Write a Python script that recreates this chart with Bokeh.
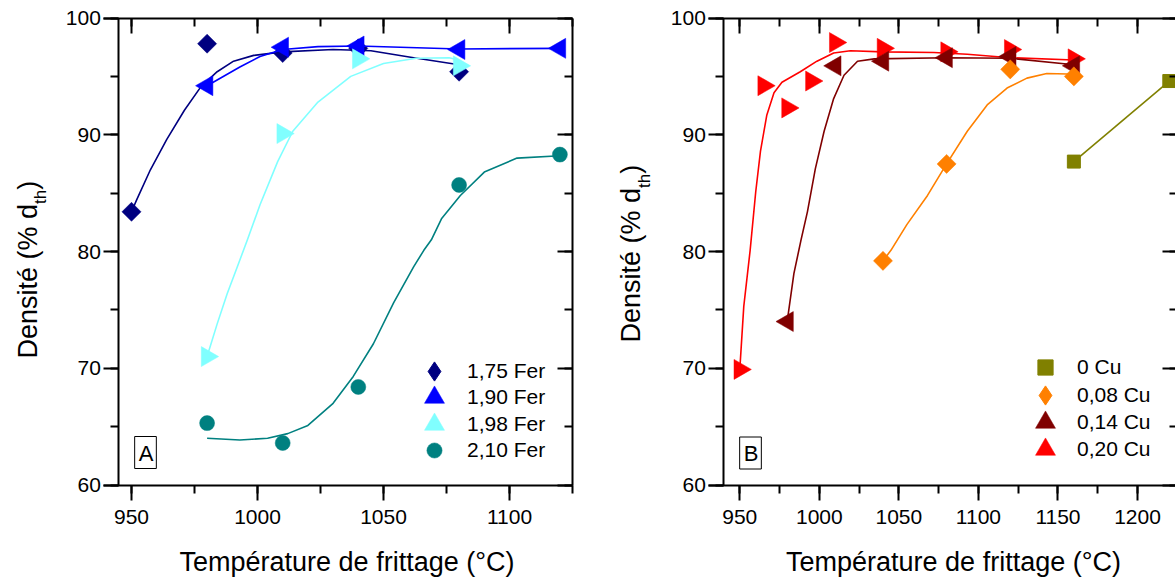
import math
import numpy as np
from bokeh.plotting import figure
from bokeh.models import (Range1d, LinearAxis, SingleIntervalTicker, Label,
                          Legend, LegendItem)
from bokeh.layouts import row
from bokeh.embed import file_html
from bokeh.resources import INLINE

FONT = "Liberation Sans"

# ---------------- Panel A : iron content ----------------
a_T_175 = [950, 980, 1010, 1040, 1080]
a_D_175 = [83.4, 97.8, 97.0, 97.4, 95.4]
a_fitT_175 = [950, 952, 957.5, 964, 971, 977.5, 984, 990.5, 998.5, 1010, 1030, 1045, 1062, 1080]
a_fitD_175 = [83.4, 84.4, 87.0, 89.6, 92.1, 94.1, 95.4, 96.3, 96.8, 97.1, 97.3, 97.2, 96.6, 96.0]

a_T_190 = [980, 1010, 1040, 1080, 1120]
a_D_190 = [94.2, 97.5, 97.6, 97.3, 97.4]
a_fitT_190 = [980, 993, 1001, 1010, 1024, 1040, 1080, 1120]
a_fitD_190 = [94.2, 95.8, 96.7, 97.3, 97.55, 97.6, 97.35, 97.4]

a_T_198 = [980, 1010, 1040, 1080]
a_D_198 = [71.0, 90.1, 96.5, 95.9]
a_fitT_198 = [980, 984, 988, 992, 996, 1001, 1008, 1014, 1024, 1037, 1050, 1063, 1076, 1080]
a_fitD_198 = [71.0, 73.8, 76.4, 78.7, 81.0, 84.0, 87.7, 90.3, 92.8, 95.0, 96.1, 96.55, 96.6, 96.4]

a_T_210 = [980, 1010, 1040, 1080, 1120]
a_D_210 = [65.3, 63.6, 68.4, 85.7, 88.3]
a_fitT_210 = [980, 993, 1004, 1012, 1020, 1030, 1038, 1046, 1054, 1062, 1066, 1069, 1073, 1080.5, 1090, 1103, 1120]
a_fitD_210 = [64.0, 63.85, 64.0, 64.4, 65.1, 67.0, 69.3, 72.1, 75.6, 78.7, 80.1, 81.0, 82.8, 84.8, 86.8, 88.0, 88.2]

a_labels = ["1,75 Fer", "1,90 Fer", "1,98 Fer", "2,10 Fer"]

# ---------------- Panel B : copper content ----------------
b_T_000 = [1160, 1220]
b_D_000 = [87.7, 94.6]

b_T_008 = [1040, 1080, 1120, 1160]
b_D_008 = [79.2, 87.5, 95.6, 95.0]
b_fitT_008 = [1040, 1045, 1055, 1068, 1080, 1093, 1105.5, 1118, 1130.5, 1143, 1156, 1160]
b_fitD_008 = [79.2, 80.1, 82.3, 84.8, 87.5, 90.3, 92.55, 94.0, 94.85, 95.25, 95.2, 95.0]

b_T_014 = [980, 1010, 1040, 1080, 1120, 1160]
b_D_014 = [74.0, 95.9, 96.3, 96.6, 96.7, 95.9]
b_fitT_014 = [980, 984, 988.5, 992.5, 997.5, 1003, 1009, 1015.5, 1024, 1034.5, 1080, 1120, 1160]
b_fitD_014 = [74.2, 78.1, 81.0, 83.4, 87.1, 90.3, 93.1, 95.1, 96.3, 96.5, 96.6, 96.55, 96.0]

b_T_020 = [950, 965, 980, 995, 1010, 1040, 1080, 1120, 1160]
b_D_020 = [69.9, 94.2, 92.3, 94.6, 97.9, 97.4, 97.1, 97.3, 96.5]
b_fitT_020 = [950, 952.5, 956.5, 960, 963, 967, 971.5, 976.5, 988, 998.5, 1009, 1019.5, 1040, 1072, 1093, 1120, 1160]
b_fitD_020 = [69.9, 75.3, 80.1, 85.1, 88.6, 91.7, 93.6, 94.5, 95.4, 96.3, 97.0, 97.2, 97.1, 97.05, 96.9, 96.6, 96.4]

b_labels = ["0 Cu", "0,08 Cu", "0,14 Cu", "0,20 Cu"]

x_title = "Température de frittage (°C)"
y_title_main = "Densité (% d"
y_title_sub = "th"
y_title_end = ")"

# ---------------- geometry (canvas pixels) ----------------
W, H = 1175, 577
SPLIT = 600
PY_TOP, PY_BOT = 17.5, 484.5          # pixel rows of 100 % and 60 %


def y_at(py):
    return 100 - (py - PY_TOP) * 40.0 / (PY_BOT - PY_TOP)


A = dict(ox=0, w=SPLIT, ref_px=131.0, ref_T=950.0, k=2.52)
B = dict(ox=SPLIT, w=W - SPLIT, ref_px=739.3, ref_T=950.0, k=1.5908)


def x_at(px, f):
    return f["ref_T"] + (px - f["ref_px"]) / f["k"]


def make_fig(f, y_axis_T, right_axis_T, x_bound_px, x_bound_end):
    p = figure(width=f["w"], height=H, output_backend="svg", toolbar_location=None,
               x_range=Range1d(x_at(f["ox"], f), x_at(f["ox"] + f["w"], f)),
               y_range=Range1d(y_at(H), y_at(0)),
               x_axis_location=None, y_axis_location=None,
               min_border=0, min_border_left=0, min_border_right=0,
               min_border_top=0, min_border_bottom=0, title=None)
    p.outline_line_color = None
    p.background_fill_color = "white"
    p.border_fill_color = "white"
    p.grid.visible = False

    xb = (x_at(x_bound_px, f), x_bound_end)

    def ax_style(ax, tin, tout, min_in, min_out, labels, standoff=0):
        ax.axis_line_width = 2
        ax.major_tick_line_width = 2
        ax.minor_tick_line_width = 2
        ax.major_tick_in = tin
        ax.major_tick_out = tout
        ax.minor_tick_in = min_in
        ax.minor_tick_out = min_out
        if labels:
            ax.major_label_text_font = FONT
            ax.major_label_text_font_size = "21px"
            ax.major_label_text_color = "black"
            ax.major_label_standoff = standoff
        else:
            ax.major_label_text_font_size = "0px"
            ax.major_label_text_color = None
            ax.major_label_standoff = 0

    bottom = LinearAxis(ticker=SingleIntervalTicker(interval=50, num_minor_ticks=2),
                        fixed_location=60, bounds=xb)
    ax_style(bottom, 0, 15, 0, 8, True, 10)
    p.add_layout(bottom, "below")

    top = LinearAxis(ticker=SingleIntervalTicker(interval=50, num_minor_ticks=2),
                     fixed_location=100, bounds=xb)
    ax_style(top, 15, 0, 8, 0, False)
    p.add_layout(top, "above")

    left = LinearAxis(ticker=SingleIntervalTicker(interval=10, num_minor_ticks=2),
                      fixed_location=y_axis_T, bounds=(60, 100))
    ax_style(left, 0, 15, 0, 8, True, 3)
    p.add_layout(left, "left")

    right = LinearAxis(ticker=SingleIntervalTicker(interval=10, num_minor_ticks=2),
                       fixed_location=right_axis_T, bounds=(60, 100))
    ax_style(right, 15, 0, 8, 0, False)
    p.add_layout(right, "right")
    return p


def series(p, T, D, fitT, fitD, color, marker, size, angle=0.0):
    if fitT is not None:
        p.line(fitT, fitD, line_color=color, line_width=1.6, line_join="round")
    return p.scatter(T, D, marker=marker, size=size, angle=angle,
                     fill_color=color, line_color=color, line_width=0.5)


def proxy(p, color, marker):
    # invisible renderer, only gives the legend a diamond swatch
    return p.scatter(x=np.array([np.nan]), y=np.array([np.nan]), marker=marker,
                     size=19, fill_color=color, line_color=color)


def legend_item(p, f, label, r, cx, cy, size, text_x):
    gh = int(round(size / 0.4))
    gw = 50
    leg = Legend(items=[LegendItem(label=label, renderers=[r])],
                 location=(cx - f["ox"] - gw / 2, H - cy - gh / 2),
                 glyph_width=gw, glyph_height=gh, padding=0, margin=0, spacing=0,
                 label_standoff=int(round(text_x - (cx + gw / 2))), label_height=20,
                 border_line_color=None, background_fill_alpha=0,
                 label_text_font=FONT, label_text_font_size="21px",
                 label_text_color="black")
    p.add_layout(leg)


def titles(p, f, main_cx, sub_cx, ylab_start, xlab_cx):
    main_len = 5.724 * 27
    sub_len = 0.834 * 17
    common = dict(angle=math.pi / 2, text_font=FONT, text_align="left",
                  text_baseline="middle", text_color="black")
    p.add_layout(Label(x=x_at(main_cx, f), y=y_at(ylab_start), text=y_title_main,
                       text_font_size="27px", **common))
    p.add_layout(Label(x=x_at(sub_cx, f), y=y_at(ylab_start - main_len), text=y_title_sub,
                       text_font_size="17px", **common))
    p.add_layout(Label(x=x_at(main_cx, f), y=y_at(ylab_start - main_len - sub_len), text=y_title_end,
                       text_font_size="27px", **common))
    p.add_layout(Label(x=x_at(xlab_cx, f), y=y_at(561), text=x_title, text_font=FONT,
                       text_font_size="27px", text_align="center", text_baseline="middle",
                       text_color="black"))


def panel_tag(p, f, text, cx, cy):
    p.add_layout(Label(x=x_at(cx, f), y=y_at(cy), text=text, text_font=FONT, text_font_size="22px",
                       text_align="center", text_baseline="middle", text_color="black",
                       border_line_color="black", border_line_width=1, padding=(4, 3, 4, 3)))


# ---------------- Figure A ----------------
pa = make_fig(A, 945, 1125, 103, 1125)
r1 = series(pa, a_T_175, a_D_175, a_fitT_175, a_fitD_175, "#000080", "square", 13.5, math.pi / 4)
r2 = series(pa, a_T_190, a_D_190, a_fitT_190, a_fitD_190, "#0000FF", "triangle", 20, math.pi / 2)
r3 = series(pa, a_T_198, a_D_198, a_fitT_198, a_fitD_198, "#80FFFF", "triangle", 20, -math.pi / 2)
r4 = series(pa, a_T_210, a_D_210, a_fitT_210, a_fitD_210, "#008080", "circle", 15)
q1 = proxy(pa, "#000080", "diamond")

for lab, r, cy, sz in zip(a_labels, [q1, r2, r3, r4], [370.7, 396.7, 424.0, 450.0], [19, 20, 20, 15]):
    legend_item(pa, A, lab, r, 434, cy, sz, 467)

titles(pa, A, 27, 40, 358, 346.5)
panel_tag(pa, A, "A", 145, 452)

# ---------------- Figure B ----------------
pb = make_fig(B, 940, 1225, 708, x_at(W, B))
s4 = series(pb, b_T_020, b_D_020, b_fitT_020, b_fitD_020, "#FF0000", "triangle", 20, -math.pi / 2)
s3 = series(pb, b_T_014, b_D_014, b_fitT_014, b_fitD_014, "#800000", "triangle", 20, math.pi / 2)
s2 = series(pb, b_T_008, b_D_008, b_fitT_008, b_fitD_008, "#FF8000", "square", 13.5, math.pi / 4)
pb.line(b_T_000, b_D_000, line_color="#808000", line_width=1.6)
s1 = pb.scatter(b_T_000, b_D_000, marker="square", size=13, fill_color="#808000", line_color="#808000")
q2 = proxy(pb, "#FF8000", "diamond")

for lab, r, cy, sz in zip(b_labels, [s1, q2, s3, s4], [366.7, 395.0, 421.7, 449.0], [15, 19, 20, 20]):
    legend_item(pb, B, lab, r, 1045, cy, sz, 1077)

titles(pb, B, 630, 644, 342, 953)
panel_tag(pb, B, "B", 750, 452.5)

layout = row(pa, pb)
open("out.html", "w").write(file_html(layout, INLINE))
